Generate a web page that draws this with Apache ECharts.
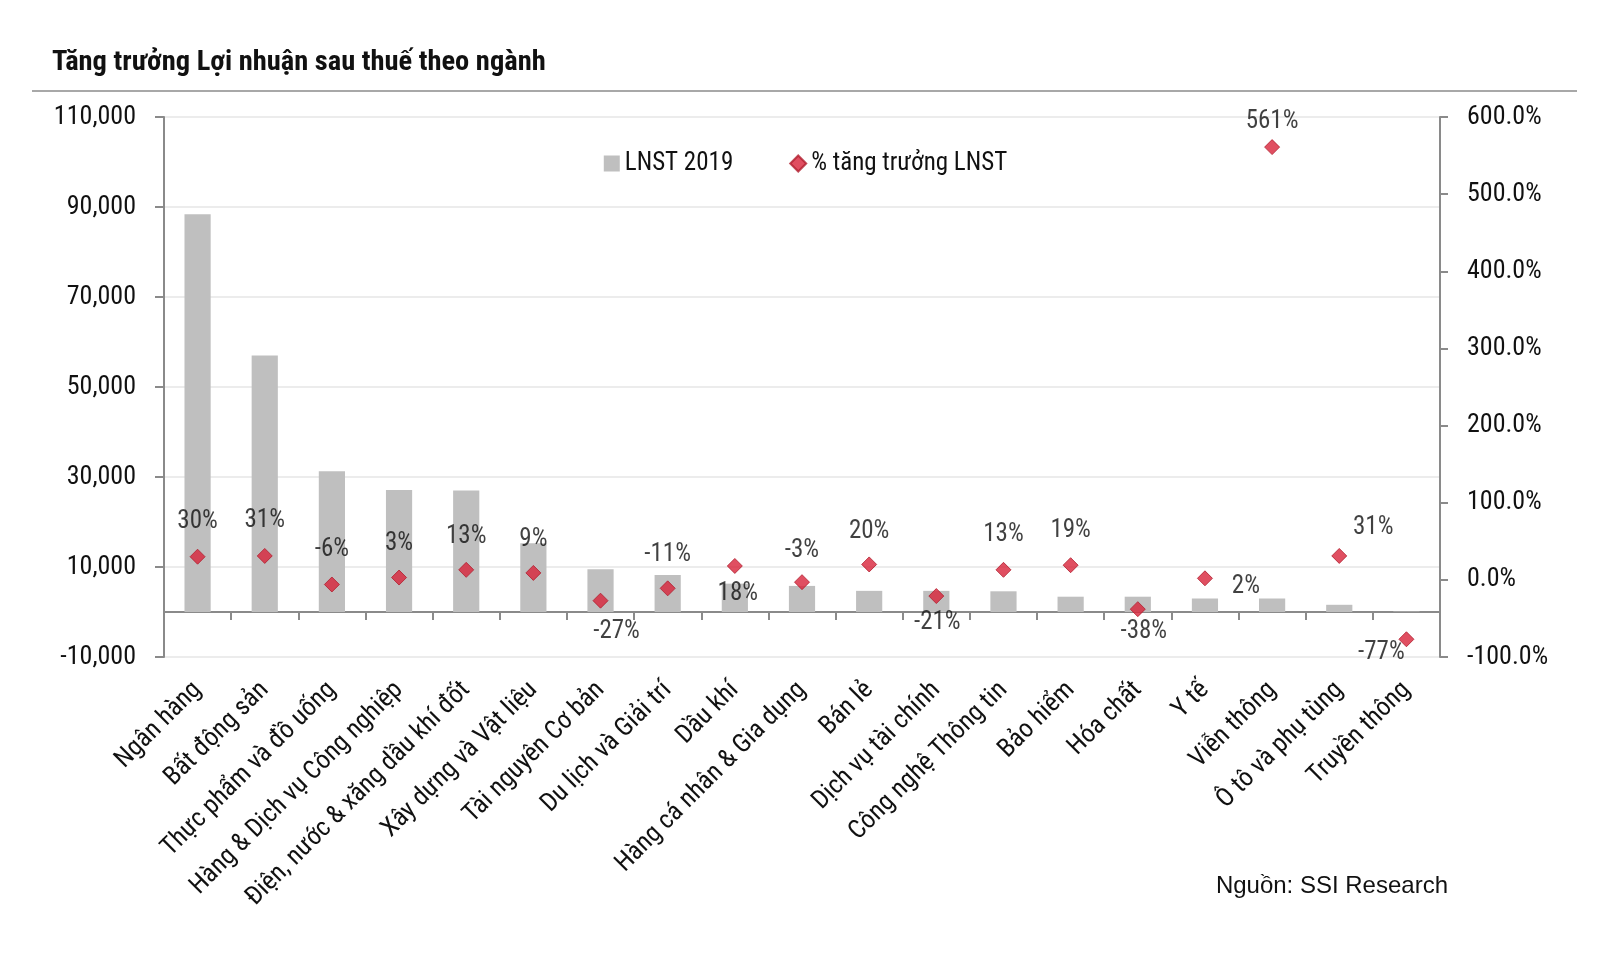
<!DOCTYPE html>
<html>
<head>
<meta charset="utf-8">
<script src="https://cdn.jsdelivr.net/npm/echarts@6/dist/echarts.min.js"></script>
<style>
html,body{margin:0;padding:0;background:#fff;}
#chart{width:1611px;height:963px;}
</style>
</head>
<body>
<div id="chart"></div>
<script>
// ---- data ----
const categories = ['Ngân hàng','Bất động sản','Thực phẩm và đồ uống','Hàng & Dịch vụ Công nghiệp','Điện, nước & xăng dầu khí đốt','Xây dựng và Vật liệu','Tài nguyên Cơ bản','Du lịch và Giải trí','Dầu khí','Hàng cá nhân & Gia dụng','Bán lẻ','Dịch vụ tài chính','Công nghệ Thông tin','Bảo hiểm','Hóa chất','Y tế','Viễn thông','Ô tô và phụ tùng','Truyền thông'];
const lnst2019 = [88400, 57000, 31300, 27100, 27000, 15300, 9500, 8200, 6300, 5800, 4700, 4700, 4600, 3400, 3400, 3000, 3000, 1600, 100];
const growthPct = [30, 31, -6, 3, 13, 9, -27, -11, 18, -3, 20, -21, 13, 19, -38, 2, 561, 31, -77];
const leftTicks = {min: -10000, max: 110000, interval: 20000};
const rightTicks = {min: -100, max: 600, interval: 100};
const seriesNames = ['LNST 2019', '% tăng trưởng LNST'];

// ---- label placement (style: offsets from marker centre) ----
const labelOffsets = [[0,-35],[0,-35],[0,-35],[0,-34],[0,-33],[0,-33],[16,31],[0,-34],[3,28],[0,-31],[0,-33],[1,27],[0,-35],[0,-34],[6,23],[41,8],[0,-25],[34,-28],[-25,13]];

const FONT = '"Roboto Condensed","Liberation Sans",sans-serif';
const TXT = '#111';
const AXIS = '#8a8a8a';

const chart = echarts.init(document.getElementById('chart'), null, {renderer:'canvas'});

const scatterData = growthPct.map((v,i)=>({
  value: v,
  label: {offset: labelOffsets[i]}
}));

chart.setOption({
  backgroundColor:'#fff',
  animation:false,
  title:{
    text:'Tăng trưởng Lợi nhuận sau thuế theo ngành',
    left:47, top:43,
    textStyle:{fontFamily:FONT, fontWeight:'bold', fontSize:28.5, color:'#111'}
  },
  graphic:[
    {type:'line', shape:{x1:32,y1:91,x2:1577,y2:91}, style:{stroke:'#a8a8a8', lineWidth:2}},
    {type:'text', right:163, top:874, style:{text:'Nguồn: SSI Research', font:'24px "Liberation Sans", Arial, sans-serif', fill:'#111'}}
  ],
  legend:{
    data:[{name:seriesNames[0], icon:'rect'},{name:seriesNames[1], icon:'diamond'}],
    left:'center', top:146,
    itemWidth:16, itemHeight:16, itemGap:56,
    textStyle:{fontFamily:FONT, fontSize:25, color:TXT}
  },
  grid:{left:164, right:171, top:117, bottom:306, containLabel:false},
  xAxis:[
    {
      type:'category', data:categories,
      axisLine:{show:true, onZero:true, onZeroAxisIndex:0, lineStyle:{color:AXIS, width:2}},
      axisTick:{show:true, interval:0, length:8, lineStyle:{color:AXIS, width:2}},
      axisLabel:{show:false},
      splitLine:{show:false}
    },
    {
      type:'category', data:categories, position:'bottom',
      axisLine:{show:false, onZero:false},
      axisTick:{show:false},
      axisLabel:{show:true, interval:0, rotate:45, margin:29, fontFamily:FONT, fontSize:26, color:TXT},
      splitLine:{show:false}
    }
  ],
  yAxis:[
    {
      type:'value', min:leftTicks.min, max:leftTicks.max, interval:leftTicks.interval,
      axisLine:{show:true, lineStyle:{color:AXIS, width:2}},
      axisTick:{show:true, length:9, lineStyle:{color:AXIS, width:2}},
      axisLabel:{margin:28, fontFamily:FONT, fontSize:26, color:TXT,
        formatter:v=>v.toLocaleString('en-US')},
      splitLine:{show:true, lineStyle:{color:'#ececec', width:2}}
    },
    {
      type:'value', min:rightTicks.min, max:rightTicks.max, interval:rightTicks.interval, position:'right',
      axisLine:{show:true, lineStyle:{color:AXIS, width:2}},
      axisTick:{show:true, length:8, lineStyle:{color:AXIS, width:2}},
      axisLabel:{margin:27, fontFamily:FONT, fontSize:26, color:TXT,
        formatter:v=>v.toFixed(1)+'%'},
      splitLine:{show:false}
    }
  ],
  series:[
    {
      name:seriesNames[0], type:'bar', xAxisIndex:0, yAxisIndex:0,
      data:lnst2019, barWidth:'39%',
      itemStyle:{color:'#bfbfbf'}
    },
    {
      name:seriesNames[1], type:'scatter', xAxisIndex:0, yAxisIndex:1,
      data:scatterData, symbol:'diamond', symbolSize:15,
      itemStyle:{color:'#d8233a', borderColor:'#b01e2e', borderWidth:1},
      label:{show:true, position:'inside', formatter:p=>p.value+'%',
        fontFamily:FONT, fontSize:25, color:TXT}
    }
  ]
});
</script>
</body>
</html>
